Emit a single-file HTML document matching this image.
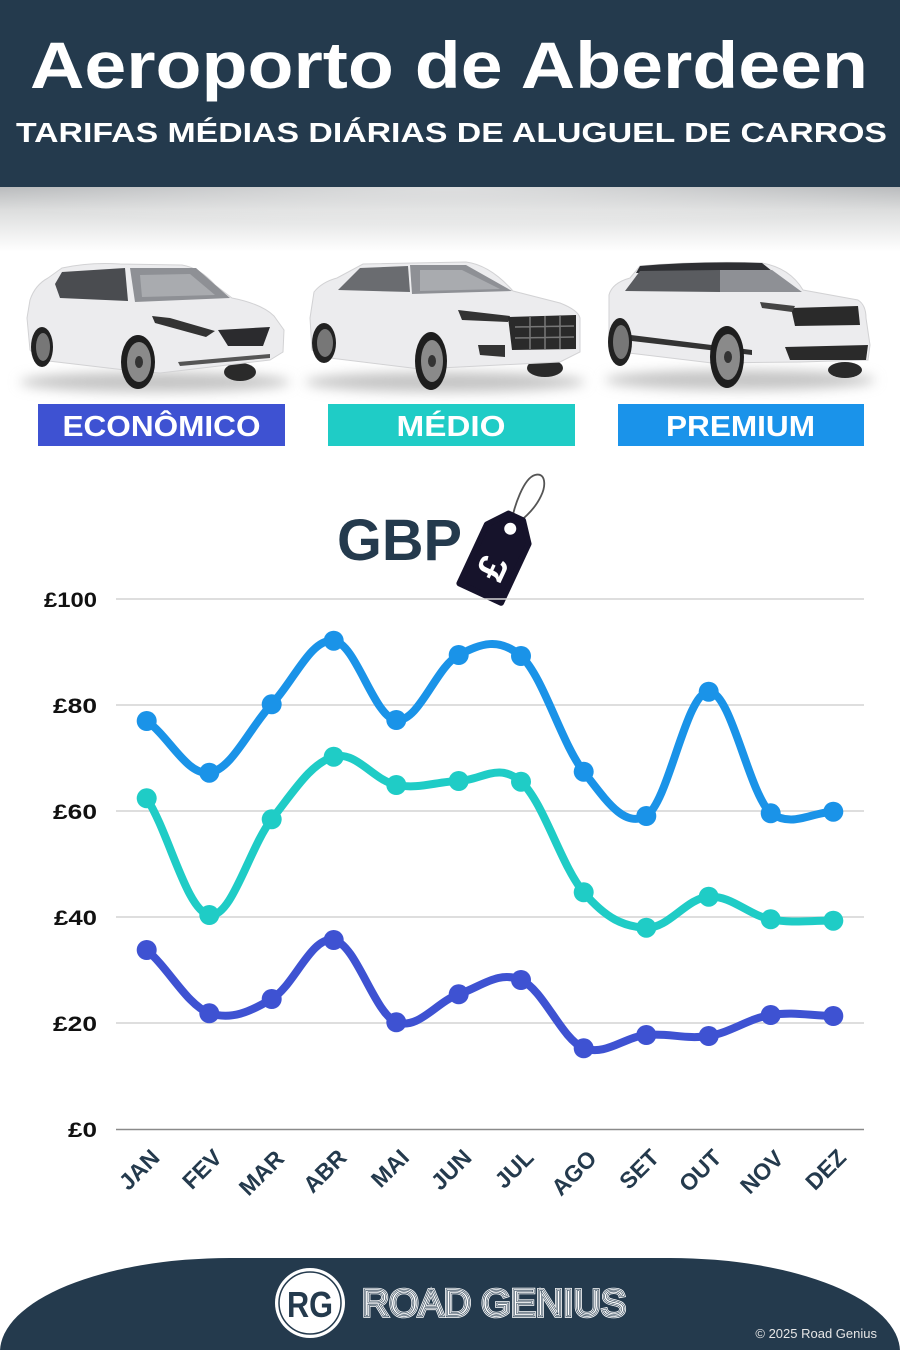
<!DOCTYPE html>
<html>
<head>
<meta charset="utf-8">
<style>
  html,body{margin:0;padding:0;background:#fff;}
  body{width:900px;height:1350px;overflow:hidden;}
  svg{display:block;}
  text{font-family:"Liberation Sans",sans-serif;}
</style>
</head>
<body>
<svg width="900" height="1350" viewBox="0 0 900 1350" xmlns="http://www.w3.org/2000/svg">
  <defs>
    <linearGradient id="hdrShadow" x1="0" y1="0" x2="0" y2="1">
      <stop offset="0" stop-color="#b2b4b6"/>
      <stop offset="0.35" stop-color="#dcdddd"/>
      <stop offset="1" stop-color="#ffffff"/>
    </linearGradient>
    <radialGradient id="shadowCenter" cx="0.5" cy="0" r="0.6">
      <stop offset="0" stop-color="#ffffff" stop-opacity="0.55"/>
      <stop offset="1" stop-color="#ffffff" stop-opacity="0"/>
    </radialGradient>
    <filter id="blur6" x="-20%" y="-100%" width="140%" height="300%">
      <feGaussianBlur stdDeviation="6"/>
    </filter>
  </defs>

  <!-- Header -->
  <rect x="0" y="0" width="900" height="187" fill="#243a4d"/>
  <rect x="0" y="187" width="900" height="65" fill="url(#hdrShadow)"/>
  <rect x="0" y="187" width="900" height="65" fill="url(#shadowCenter)"/>
  <text x="30" y="88" font-size="66" font-weight="bold" fill="#ffffff" textLength="838" lengthAdjust="spacingAndGlyphs">Aeroporto de Aberdeen</text>
  <text x="16" y="142" font-size="28" font-weight="bold" fill="#ffffff" textLength="871" lengthAdjust="spacingAndGlyphs">TARIFAS MÉDIAS DIÁRIAS DE ALUGUEL DE CARROS</text>

  <!-- Car 1 (economy hatchback) -->
  <g>
    <ellipse cx="155" cy="382" rx="135" ry="10" fill="#c4c4c4" filter="url(#blur6)"/>
    <ellipse cx="240" cy="372" rx="16" ry="9" fill="#2a2a2a"/>
    <path d="M27,318 L30,300 Q35,285 48,278 L62,268 Q90,262 120,264 L182,265 Q200,268 215,285 L232,298 Q262,304 274,316 L284,330 L283,352 L270,360 L160,373 L125,370 L40,360 L30,350 Z" fill="#ececee" stroke="#d2d2d4" stroke-width="1"/>
    <path d="M55,284 L62,272 L125,268 L128,301 L60,298 Z" fill="#4a4c50"/>
    <path d="M130,268 L196,268 L230,298 L135,302 Z" fill="#8e9095"/>
    <path d="M140,275 L190,274 L215,295 L142,297 Z" fill="#a9abaf"/>
    <path d="M152,316 L170,318 L215,331 L206,337 L155,323 Z" fill="#333"/>
    <path d="M218,330 L270,327 L263,346 L228,346 Z" fill="#2b2b2e"/>
    <path d="M178,362 L270,354 L270,358 L180,366 Z" fill="#555"/>
    <ellipse cx="42" cy="347" rx="11" ry="20" fill="#222"/>
    <ellipse cx="43" cy="347" rx="7" ry="14" fill="#777"/>
    <ellipse cx="138" cy="362" rx="17" ry="27" fill="#1e1e1e"/>
    <ellipse cx="139" cy="362" rx="12" ry="20" fill="#8a8a8a"/>
    <ellipse cx="139" cy="362" rx="4" ry="6" fill="#333"/>
  </g>

  <!-- Car 2 (medium SUV) -->
  <g>
    <ellipse cx="445" cy="382" rx="140" ry="10" fill="#c4c4c4" filter="url(#blur6)"/>
    <ellipse cx="545" cy="368" rx="18" ry="9" fill="#2a2a2a"/>
    <path d="M310,318 L314,292 Q322,282 337,278 L363,264 L466,262 Q490,265 513,291 L560,303 Q578,310 580,318 L580,352 L560,362 L420,369 L330,358 L312,350 Z" fill="#ececee" stroke="#d2d2d4" stroke-width="1"/>
    <path d="M338,290 L360,268 L408,266 L410,292 Z" fill="#6a6c70"/>
    <path d="M410,265 L466,265 L512,291 L412,294 Z" fill="#8e9095"/>
    <path d="M420,270 L462,270 L500,289 L420,291 Z" fill="#a9abaf"/>
    <path d="M458,310 L510,316 L508,322 L462,320 Z" fill="#333"/>
    <path d="M508,317 L576,315 L576,349 L512,350 Z" fill="#2a2a2a"/>
    <path d="M515,327 L574,326 M515,338 L574,337 M530,317 L530,349 M545,316 L545,349 M560,316 L560,349" stroke="#777" stroke-width="1.5" fill="none"/>
    <path d="M478,345 L505,345 L505,357 L480,355 Z" fill="#333"/>
    <ellipse cx="324" cy="343" rx="12" ry="20" fill="#222"/>
    <ellipse cx="325" cy="343" rx="8" ry="14" fill="#777"/>
    <ellipse cx="431" cy="361" rx="16" ry="29" fill="#1e1e1e"/>
    <ellipse cx="432" cy="361" rx="11" ry="21" fill="#8a8a8a"/>
    <ellipse cx="432" cy="361" rx="4" ry="6" fill="#333"/>
  </g>

  <!-- Car 3 (premium SUV) -->
  <g>
    <ellipse cx="740" cy="380" rx="135" ry="10" fill="#c4c4c4" filter="url(#blur6)"/>
    <ellipse cx="845" cy="370" rx="17" ry="8" fill="#2a2a2a"/>
    <path d="M609,295 Q612,283 630,278 L640,266 Q700,261 762,263 Q790,268 803,290 L858,300 Q866,305 866,318 L870,345 L868,360 L800,362 L712,363 L620,352 L609,345 Z" fill="#ececee" stroke="#d2d2d4" stroke-width="1"/>
    <path d="M640,266 Q700,261 762,263 L772,271 L636,273 Z" fill="#2e2f33"/>
    <path d="M625,291 L640,271 L720,270 L720,292 Z" fill="#5a5c60"/>
    <path d="M720,270 L772,270 L802,292 L720,292 Z" fill="#8e9095"/>
    <path d="M791,308 L858,306 L860,325 L795,326 Z" fill="#2a2a2a"/>
    <path d="M760,302 L795,306 L792,312 L762,308 Z" fill="#444"/>
    <path d="M785,347 L868,345 L866,360 L790,360 Z" fill="#2a2a2a"/>
    <path d="M615,333 L752,350 L752,355 L615,339 Z" fill="#333"/>
    <ellipse cx="620" cy="342" rx="12" ry="24" fill="#222"/>
    <ellipse cx="621" cy="342" rx="8" ry="17" fill="#777"/>
    <ellipse cx="727" cy="357" rx="17" ry="31" fill="#1e1e1e"/>
    <ellipse cx="728" cy="357" rx="12" ry="23" fill="#8a8a8a"/>
    <ellipse cx="728" cy="357" rx="4" ry="6" fill="#333"/>
  </g>

  <!-- Category labels -->
  <rect x="38" y="404" width="247" height="42" fill="#3e52d2"/>
  <rect x="328" y="404" width="247" height="42" fill="#1fccc6"/>
  <rect x="618" y="404" width="246" height="42" fill="#1a93ea"/>
  <text x="161.5" y="436" font-size="29" font-weight="bold" fill="#fff" text-anchor="middle" textLength="198" lengthAdjust="spacingAndGlyphs">ECONÔMICO</text>
  <text x="451" y="436" font-size="29" font-weight="bold" fill="#fff" text-anchor="middle" textLength="109" lengthAdjust="spacingAndGlyphs">MÉDIO</text>
  <text x="740.5" y="436" font-size="29" font-weight="bold" fill="#fff" text-anchor="middle" textLength="149" lengthAdjust="spacingAndGlyphs">PREMIUM</text>

  <!-- GBP + tag -->
  <text x="337" y="560" font-size="58" font-weight="bold" fill="#243a4d" textLength="125" lengthAdjust="spacingAndGlyphs">GBP</text>
  <path d="M510,528 C514,505 524,478 535,475 C546,472 546,486 541,496 C534,511 521,521 511,528" fill="none" stroke="#555" stroke-width="1.8"/>
  <g transform="translate(498,555) rotate(25)">
    <path d="M-23,-23 L-8,-42 L8,-42 L23,-23 L23,42 L-23,42 Z" fill="#16132b" stroke="#16132b" stroke-width="6" stroke-linejoin="round"/>
    <circle cx="0" cy="-29" r="6" fill="#ffffff"/>
    <text x="0" y="0" font-size="40" font-weight="bold" fill="#ffffff" text-anchor="middle" transform="translate(0,14) rotate(-90) translate(0,14)">£</text>
  </g>

  <!-- Grid -->
  <g stroke="#d3d3d3" stroke-width="1.5">
    <line x1="116" y1="599" x2="864" y2="599"/>
    <line x1="116" y1="705" x2="864" y2="705"/>
    <line x1="116" y1="811" x2="864" y2="811"/>
    <line x1="116" y1="917" x2="864" y2="917"/>
    <line x1="116" y1="1023" x2="864" y2="1023"/>
  </g>
  <line x1="116" y1="1129.5" x2="864" y2="1129.5" stroke="#8a8a8a" stroke-width="1.5"/>

  <!-- Y labels -->
  <g font-size="21" font-weight="bold" fill="#111" text-anchor="end">
    <text x="97" y="607" textLength="53" lengthAdjust="spacingAndGlyphs">£100</text>
    <text x="97" y="713" textLength="44" lengthAdjust="spacingAndGlyphs">£80</text>
    <text x="97" y="819" textLength="44" lengthAdjust="spacingAndGlyphs">£60</text>
    <text x="97" y="925" textLength="43" lengthAdjust="spacingAndGlyphs">£40</text>
    <text x="97" y="1031" textLength="44" lengthAdjust="spacingAndGlyphs">£20</text>
    <text x="97" y="1137" textLength="29" lengthAdjust="spacingAndGlyphs">£0</text>
  </g>

  <!-- Series: Premium -->
  <path d="M146.7,721 C169.2,736.5 186.8,775.7 209.3,772.7 C231.8,769.7 249.2,728.1 271.7,704.3 C294.2,680.5 311.2,637.9 333.7,640.7 C356.2,643.5 373.8,717.4 396.3,720 C418.8,722.6 436.2,666.5 458.7,655 C481.2,643.5 498.5,637 521,656 C543.5,677 561.2,742.9 583.7,771.7 C606.2,800.5 623.8,828 646.3,816 C668.8,801.6 686.2,692.2 708.7,691.7 C731.2,691.2 748.2,791.7 770.7,813.3 C793.2,828 810.8,812.2 833.3,811.7" fill="none" stroke="#1a93e8" stroke-width="8" stroke-linecap="round" stroke-linejoin="round"/>
  <g fill="#1a93e8">
    <circle cx="146.7" cy="721" r="10"/><circle cx="209.3" cy="772.7" r="10"/><circle cx="271.7" cy="704.3" r="10"/><circle cx="333.7" cy="640.7" r="10"/><circle cx="396.3" cy="720" r="10"/><circle cx="458.7" cy="655" r="10"/><circle cx="521" cy="656" r="10"/><circle cx="583.7" cy="771.7" r="10"/><circle cx="646.3" cy="816" r="10"/><circle cx="708.7" cy="691.7" r="10"/><circle cx="770.7" cy="813.3" r="10"/><circle cx="833.3" cy="811.7" r="10"/>
  </g>

  <!-- Series: Medio -->
  <path d="M146.7,798.3 C169.2,833.3 186.8,911.2 209.3,915 C231.8,918.8 249.2,847.8 271.7,819.3 C294.2,790.8 311.2,762.9 333.7,756.7 C356.2,750.5 373.8,780.6 396.3,785 C418.8,789.4 436.2,781.6 458.7,781 C481.2,780.4 498.5,761.7 521,781.7 C543.5,801.7 561.2,866 583.7,892.3 C606.2,918.6 623.8,926.9 646.3,927.7 C668.8,928.5 686.2,898.2 708.7,896.7 C731.2,895.2 748.2,915 770.7,919.3 C793.2,923.6 810.8,920.3 833.3,920.7" fill="none" stroke="#1fccc6" stroke-width="8" stroke-linecap="round" stroke-linejoin="round"/>
  <g fill="#1fccc6">
    <circle cx="146.7" cy="798.3" r="10"/><circle cx="209.3" cy="915" r="10"/><circle cx="271.7" cy="819.3" r="10"/><circle cx="333.7" cy="756.7" r="10"/><circle cx="396.3" cy="785" r="10"/><circle cx="458.7" cy="781" r="10"/><circle cx="521" cy="781.7" r="10"/><circle cx="583.7" cy="892.3" r="10"/><circle cx="646.3" cy="927.7" r="10"/><circle cx="708.7" cy="896.7" r="10"/><circle cx="770.7" cy="919.3" r="10"/><circle cx="833.3" cy="920.7" r="10"/>
  </g>

  <!-- Series: Economico -->
  <path d="M146.7,950 C169.2,969 186.8,1004.5 209.3,1013.3 C231.8,1020 249.2,1012.2 271.7,999 C294.2,985.8 311.2,935.8 333.7,940 C356.2,944.2 373.8,1012.5 396.3,1022.3 C418.8,1030 436.2,1001.9 458.7,994.3 C481.2,986.7 498.5,970.3 521,980 C543.5,989.7 561.2,1038.4 583.7,1048.3 C606.2,1056 623.8,1037.2 646.3,1035 C668.8,1032.8 686.2,1039.6 708.7,1036 C731.2,1032.4 748.2,1018.6 770.7,1015 C793.2,1011.4 810.8,1015.7 833.3,1016" fill="none" stroke="#3e52d2" stroke-width="8" stroke-linecap="round" stroke-linejoin="round"/>
  <g fill="#3e52d2">
    <circle cx="146.7" cy="950" r="10"/><circle cx="209.3" cy="1013.3" r="10"/><circle cx="271.7" cy="999" r="10"/><circle cx="333.7" cy="940" r="10"/><circle cx="396.3" cy="1022.3" r="10"/><circle cx="458.7" cy="994.3" r="10"/><circle cx="521" cy="980" r="10"/><circle cx="583.7" cy="1048.3" r="10"/><circle cx="646.3" cy="1035" r="10"/><circle cx="708.7" cy="1036" r="10"/><circle cx="770.7" cy="1015" r="10"/><circle cx="833.3" cy="1016" r="10"/>
  </g>

  <!-- X labels -->
  <g font-size="23" font-weight="bold" fill="#243a4d" text-anchor="end">
    <text transform="translate(161,1159) rotate(-45)">JAN</text>
    <text transform="translate(223.5,1159) rotate(-45)">FEV</text>
    <text transform="translate(285.5,1160) rotate(-45)">MAR</text>
    <text transform="translate(348,1159) rotate(-45)">ABR</text>
    <text transform="translate(410.5,1159) rotate(-45)">MAI</text>
    <text transform="translate(473,1159) rotate(-45)">JUN</text>
    <text transform="translate(535,1159) rotate(-45)">JUL</text>
    <text transform="translate(598,1160) rotate(-45)">AGO</text>
    <text transform="translate(660.5,1159) rotate(-45)">SET</text>
    <text transform="translate(723,1159) rotate(-45)">OUT</text>
    <text transform="translate(785,1160) rotate(-45)">NOV</text>
    <text transform="translate(847.5,1159) rotate(-45)">DEZ</text>
  </g>

  <!-- Footer -->
  <path d="M0,1352 A230 94 0 0 1 230 1258 L670 1258 A230 94 0 0 1 900 1352 Z" fill="#243a4d"/>
  <circle cx="310" cy="1303" r="35" fill="#ffffff"/>
  <circle cx="310" cy="1303" r="31" fill="none" stroke="#243a4d" stroke-width="1.5"/>
  <text x="310" y="1317" font-size="36" font-weight="bold" fill="#243a4d" text-anchor="middle" textLength="46" lengthAdjust="spacingAndGlyphs">RG</text>
  <g font-size="38">
    <text x="362" y="1316" fill="none" stroke="#ffffff" stroke-width="3.6" textLength="264" lengthAdjust="spacingAndGlyphs">ROAD GENIUS</text>
    <text x="362" y="1316" fill="none" stroke="#243a4d" stroke-width="2" textLength="264" lengthAdjust="spacingAndGlyphs">ROAD GENIUS</text>
    <text x="362" y="1316" fill="none" stroke="#ffffff" stroke-width="0.8" textLength="264" lengthAdjust="spacingAndGlyphs">ROAD GENIUS</text>
  </g>
  <text x="877" y="1338" font-size="13" fill="#e6e6e6" text-anchor="end">© 2025 Road Genius</text>
</svg>
</body>
</html>
